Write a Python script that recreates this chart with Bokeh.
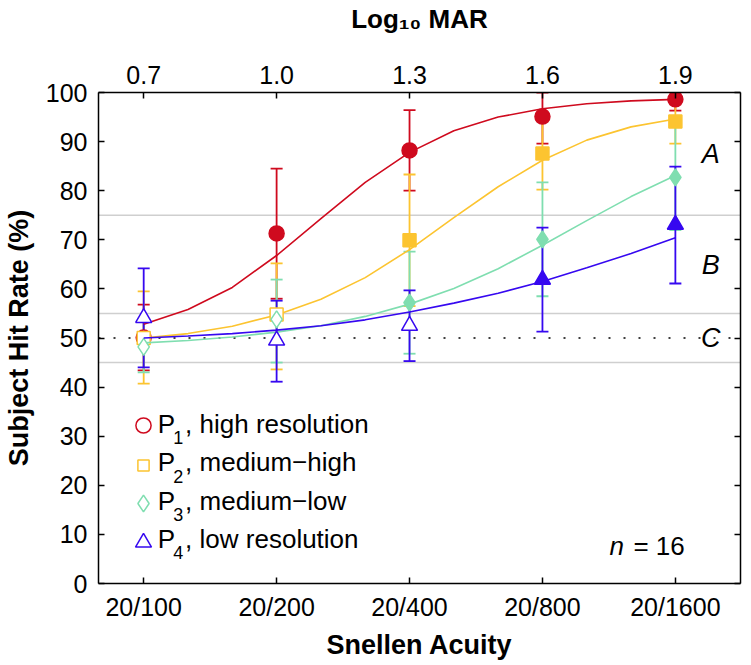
from bokeh.plotting import figure
from bokeh.models import (Range1d, LinearAxis, FixedTicker, Whisker, TeeHead,
                          ColumnDataSource, Span, Label, Legend, LegendItem)
from bokeh.embed import file_html
from bokeh.resources import INLINE

# ---------------- data ----------------
log_mar = [0.7, 1.0, 1.3, 1.6, 1.9]
snellen = ["20/100", "20/200", "20/400", "20/800", "20/1600"]
top_labels = ["0.7", "1.0", "1.3", "1.6", "1.9"]
y_ticks = [0, 10, 20, 30, 40, 50, 60, 70, 80, 90, 100]

name_sub = ["1", "2", "3", "4"]
name_rest = [", high resolution", ", medium\u2212high", ", medium\u2212low", ", low resolution"]

p1_mean = [50.1, 71.3, 88.2, 95.1, 98.6]
p1_low = [43.4, 58.0, 80.0, 89.6, 96.3]
p1_up = [56.8, 84.5, 96.4, 100.0, 100.0]
p1_filled = [False, True, True, True, True]

p2_mean = [50.0, 54.8, 69.9, 87.6, 94.1]
p2_low = [40.7, 43.6, 56.5, 80.2, 89.6]
p2_up = [59.5, 65.2, 83.3, 95.0, 98.6]
p2_filled = [False, False, True, True, True]

p3_mean = [48.2, 53.8, 57.2, 70.1, 82.7]
p3_low = [43.0, 45.0, 46.8, 58.5, 72.0]
p3_up = [53.4, 61.9, 67.6, 81.7, 93.4]
p3_filled = [False, False, True, True, True]

p4_mean = [54.1, 49.5, 52.5, 61.9, 73.1]
p4_low = [44.0, 41.1, 45.3, 51.3, 61.1]
p4_up = [64.2, 57.6, 59.7, 72.5, 84.9]
p4_filled = [False, False, False, True, True]

# fitted curves
fit_x = [0.7, 0.8, 0.9, 1.0, 1.1, 1.2, 1.3, 1.4, 1.5, 1.6, 1.7, 1.8, 1.9]
p1_fit = [52.8, 55.8, 60.3, 66.8, 74.3, 81.7, 87.8, 92.2, 95.0, 96.7, 97.7, 98.3, 98.6]
p2_fit = [50.0, 50.9, 52.4, 54.7, 57.9, 62.3, 68.0, 74.5, 80.8, 86.2, 90.3, 93.0, 94.6]
p3_fit = [49.0, 49.5, 50.2, 51.2, 52.5, 54.4, 56.9, 60.1, 64.1, 68.9, 73.9, 78.8, 83.1]
p4_fit = [50.0, 50.4, 50.9, 51.6, 52.5, 53.7, 55.3, 57.1, 59.1, 61.5, 64.3, 67.2, 70.4]

colors = ["#cf0a1e", "#fcc430", "#7fdeb0", "#3608f0"]
markers = ["circle", "square", "diamond", "triangle"]
sizes = [15, 13, 17, 16]
legend_sizes = [15, 11, 17, 16]

FONT = "Liberation Sans"
X0, X1 = 0.598, 2.047
FRAME_W, FRAME_H = 642, 491

p = figure(frame_width=FRAME_W, frame_height=FRAME_H, output_backend="svg",
           toolbar_location=None,
           x_range=Range1d(X0, X1), y_range=Range1d(0, 100),
           x_axis_location=None, y_axis_location=None,
           min_border_left=95, min_border_right=4, min_border_top=92, min_border_bottom=74)
p.xgrid.visible = False
p.ygrid.visible = False
p.outline_line_color = None
p.background_fill_color = "white"


def style_axis(ax):
    ax.axis_line_color = "black"
    ax.axis_line_width = 1.5
    ax.major_tick_line_color = "black"
    ax.major_tick_line_width = 1.5
    ax.major_tick_in = 6
    ax.major_tick_out = 0
    ax.minor_tick_line_color = None
    ax.major_label_text_font = FONT
    ax.major_label_text_font_size = "25px"
    ax.major_label_text_color = "black"
    ax.axis_label_text_font = FONT
    ax.axis_label_text_font_size = "27px"
    ax.axis_label_text_font_style = "bold"
    ax.axis_label_text_color = "black"


bottom = LinearAxis(ticker=FixedTicker(ticks=log_mar),
                    major_label_overrides={x: s for x, s in zip(log_mar, snellen)},
                    axis_label="Snellen Acuity")
style_axis(bottom)
bottom.major_label_standoff = 9
bottom.axis_label_standoff = 6
p.add_layout(bottom, "below")

top = LinearAxis(ticker=FixedTicker(ticks=log_mar),
                 major_label_overrides={x: s for x, s in zip(log_mar, top_labels)},
                 axis_label="Log\u2081\u2080 MAR")
style_axis(top)
top.axis_label_text_font_size = "26px"
top.major_label_standoff = 9
top.axis_label_standoff = 29
p.add_layout(top, "above")

left = LinearAxis(ticker=FixedTicker(ticks=y_ticks), axis_label="Subject Hit Rate (%)")
style_axis(left)
left.major_label_standoff = 11
left.axis_label_standoff = 9
p.add_layout(left, "left")

right = LinearAxis(ticker=FixedTicker(ticks=y_ticks),
                   major_label_overrides={v: "" for v in y_ticks})
style_axis(right)
right.major_label_standoff = 0
p.add_layout(right, "right")

# region boundaries and chance line
for lvl in [75, 55, 45]:
    p.add_layout(Span(location=lvl, dimension="width", line_color="#cfcfcf",
                      line_width=1.5, level="underlay"))
p.add_layout(Span(location=50, dimension="width", line_color="black",
                  line_width=1.6, line_dash="2 13", level="underlay"))

series = [
    (p1_mean, p1_low, p1_up, p1_filled, p1_fit),
    (p2_mean, p2_low, p2_up, p2_filled, p2_fit),
    (p3_mean, p3_low, p3_up, p3_filled, p3_fit),
    (p4_mean, p4_low, p4_up, p4_filled, p4_fit),
]

# legend rows: marker centres (px above the frame bottom)
legend_row_px = [158, 118, 80, 41]
legend_text_y = [32.5, 24.7, 16.9, 9.1]
marker_cx = (log_mar[0] - X0) / (X1 - X0) * FRAME_W

for i, (mean, low, up, filled, fit) in enumerate(series):
    c = colors[i]
    src = ColumnDataSource(dict(x=log_mar, mean=mean, lower=low, upper=up,
                                fill=[c if f else "white" for f in filled]))
    p.line(fit_x, fit, line_color=c, line_width=1.6)
    w = Whisker(base="x", upper="upper", lower="lower", source=src,
                line_color=c, line_width=1.8,
                upper_head=TeeHead(size=12, line_color=c, line_width=1.8),
                lower_head=TeeHead(size=12, line_color=c, line_width=1.8))
    p.add_layout(w)
    r = p.scatter("x", "mean", source=src, marker=markers[i], size=sizes[i],
                  line_color=c, fill_color="fill", line_width=1.5)
    # legend glyph: the (open) first point of the series, one small legend per row
    box = int(round(legend_sizes[i] / 0.4))
    lg = Legend(items=[LegendItem(label="\u00a0", renderers=[r], index=0)],
                location=(int(round(marker_cx - box / 2)),
                          int(round(legend_row_px[i] - box / 2))),
                label_text_font_size="8px", glyph_width=box, glyph_height=box,
                label_height=box, label_width=4, label_standoff=0, spacing=0,
                padding=0, margin=0, border_line_color=None, background_fill_alpha=0)
    p.add_layout(lg)
    # legend text: P with subscript index
    yt = legend_text_y[i]
    p.add_layout(Label(x=0.7316, y=yt, text="P", text_font=FONT, text_font_size="26px",
                       text_baseline="middle", text_color="black"))
    p.add_layout(Label(x=0.7665, y=yt, y_offset=-14, text=name_sub[i], text_font=FONT,
                       text_font_size="18px", text_baseline="middle", text_color="black"))
    p.add_layout(Label(x=0.7935, y=yt, text=name_rest[i], text_font=FONT,
                       text_font_size="26px", text_baseline="middle", text_color="black"))

# region labels
for txt, yv in [("A", 87.4), ("B", 64.9), ("C", 49.9)]:
    p.add_layout(Label(x=1.980, y=yv, text=txt, text_font=FONT, text_font_size="27px",
                       text_font_style="italic", text_align="center",
                       text_baseline="middle", text_color="black"))

p.add_layout(Label(x=1.7512, y=7.7, text="n", text_font=FONT, text_font_size="26px",
                   text_font_style="italic", text_baseline="middle", text_color="black"))
p.add_layout(Label(x=1.7512, y=7.7, x_offset=24, text="= 16", text_font=FONT,
                   text_font_size="26px", text_baseline="middle", text_color="black"))

open("out.html", "w").write(file_html(p, INLINE))
